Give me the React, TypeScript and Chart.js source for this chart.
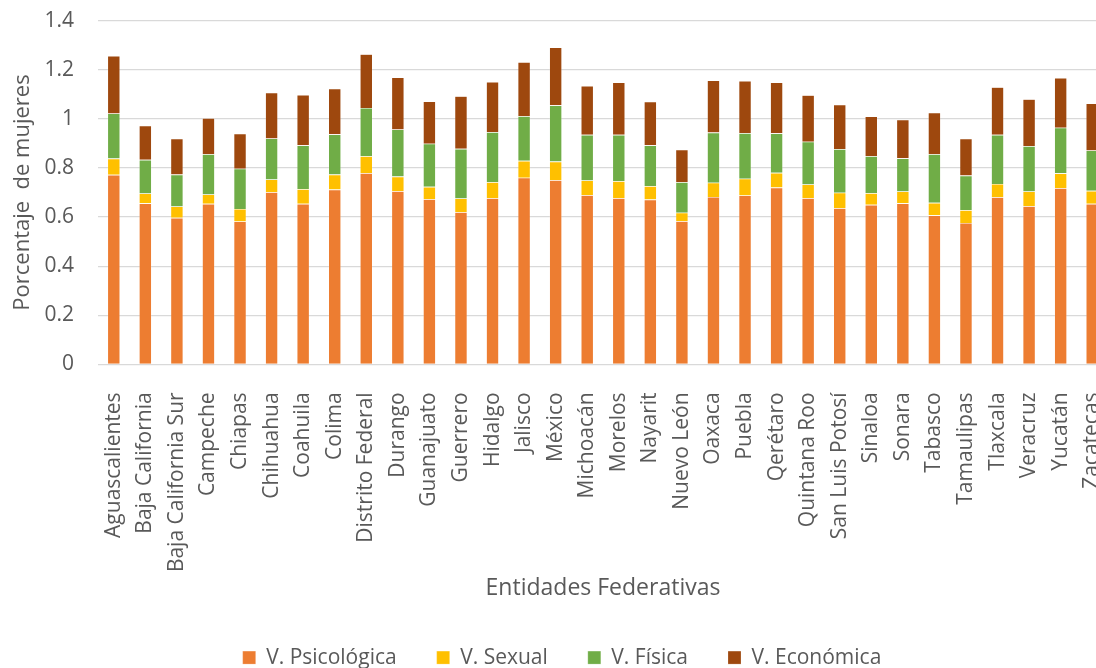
import React, { useEffect, useRef } from "react";
import { Chart, registerables } from "chart.js";

Chart.register(...registerables);

const estados = [
  "Aguascalientes", "Baja California", "Baja California Sur", "Campeche", "Chiapas",
  "Chihuahua", "Coahuila", "Colima", "Distrito Federal", "Durango", "Guanajuato",
  "Guerrero", "Hidalgo", "Jalisco", "México", "Michoacán", "Morelos", "Nayarit",
  "Nuevo León", "Oaxaca", "Puebla", "Qerétaro", "Quintana Roo", "San Luis Potosí",
  "Sinaloa", "Sonara", "Tabasco", "Tamaulipas", "Tlaxcala", "Veracruz", "Yucatán",
  "Zacatecas",
];

const psicologica = [
  0.772, 0.656, 0.597, 0.654, 0.582, 0.701, 0.654, 0.712, 0.779, 0.705, 0.673,
  0.620, 0.677, 0.760, 0.750, 0.689, 0.677, 0.671, 0.583, 0.682, 0.688, 0.720,
  0.677, 0.636, 0.650, 0.656, 0.607, 0.576, 0.681, 0.644, 0.718, 0.654,
];
const sexual = [
  0.066, 0.040, 0.046, 0.038, 0.051, 0.052, 0.060, 0.061, 0.069, 0.060, 0.050,
  0.056, 0.065, 0.069, 0.076, 0.060, 0.069, 0.055, 0.035, 0.058, 0.068, 0.060,
  0.056, 0.063, 0.047, 0.048, 0.051, 0.052, 0.054, 0.060, 0.060, 0.053,
];
const fisica = [
  0.184, 0.137, 0.130, 0.164, 0.164, 0.167, 0.178, 0.164, 0.196, 0.192, 0.176,
  0.202, 0.204, 0.182, 0.229, 0.186, 0.189, 0.166, 0.124, 0.204, 0.186, 0.161,
  0.174, 0.178, 0.151, 0.135, 0.198, 0.141, 0.200, 0.185, 0.186, 0.164,
];
const economica = [
  0.234, 0.139, 0.146, 0.147, 0.143, 0.187, 0.205, 0.186, 0.219, 0.212, 0.172,
  0.214, 0.204, 0.220, 0.236, 0.199, 0.213, 0.178, 0.132, 0.212, 0.212, 0.207,
  0.189, 0.181, 0.162, 0.158, 0.169, 0.150, 0.194, 0.191, 0.203, 0.192,
];

const yTicks = [0, 0.2, 0.4, 0.6, 0.8, 1, 1.2, 1.4];

const FONT = "'Open Sans', 'Noto Sans', sans-serif";
const TEXT = "#595959";

export default function App() {
  const ref = useRef<HTMLCanvasElement | null>(null);

  useEffect(() => {
    if (!ref.current) return;
    const series = [
      { label: "V. Psicológica", data: psicologica, color: "#ED7D31" },
      { label: "V. Sexual", data: sexual, color: "#FFC000" },
      { label: "V. Física", data: fisica, color: "#70AD47" },
      { label: "V. Económica", data: economica, color: "#9E480E" },
    ];
    const chart = new Chart(ref.current, {
      type: "bar",
      data: {
        labels: estados,
        datasets: series.map((s) => ({
          label: s.label,
          data: s.data,
          backgroundColor: s.color,
          borderColor: "rgba(255,255,255,0.35)",
          borderWidth: 0.6,
          barPercentage: 0.4,
          categoryPercentage: 1,
        })),
      },
      options: {
        animation: false,
        responsive: false,
        maintainAspectRatio: false,
        layout: { padding: { top: 5, left: 16, right: 33, bottom: -10.1 } },
        plugins: {
          tooltip: { enabled: false },
          legend: {
            position: "bottom",
            labels: {
              boxWidth: 13,
              boxHeight: 13,
              padding: 40,
              color: TEXT,
              font: { family: FONT, size: 21 },
            },
          },
        },
        scales: {
          x: {
            stacked: true,
            afterFit: (scale: any) => {
              scale.height = 242.7;
            },
            grid: { display: false },
            border: { display: false },
            ticks: {
              color: TEXT,
              font: { family: FONT, size: 21 },
              minRotation: 90,
              maxRotation: 90,
              autoSkip: false,
              padding: 20,
            },
            title: {
              display: true,
              text: "Entidades Federativas",
              color: TEXT,
              font: { family: FONT, size: 23 },
              padding: { top: 0, bottom: 5 },
            },
          },
          y: {
            stacked: true,
            min: 0,
            max: 1.4,
            afterBuildTicks: (scale: any) => {
              scale.ticks = yTicks.map((v) => ({ value: v }));
            },
            afterFit: (scale: any) => {
              scale.width = 82;
            },
            grid: {
              color: "#D9D9D9",
              lineWidth: 1.3,
              drawTicks: true,
              tickLength: 16,
              tickColor: "rgba(0,0,0,0)",
            },
            border: { display: false },
            ticks: {
              color: TEXT,
              font: { family: FONT, size: 21 },
              padding: 8,
              callback: (v: any) => String(Number(v)),
            },
            title: {
              display: true,
              text: "Porcentaje  de mujeres",
              color: TEXT,
              font: { family: FONT, size: 22 },
              padding: { top: -6, bottom: 0 },
            },
          },
        },
      },
    });
    return () => chart.destroy();
  }, []);

  return (
    <div style={{ position: "fixed", left: 0, top: 0, width: 1096, height: 668, overflow: "hidden", background: "#fff" }}>
      <canvas ref={ref} width={1141} height={668} style={{ display: "block", width: 1141, height: 668 }} />
    </div>
  );
}
